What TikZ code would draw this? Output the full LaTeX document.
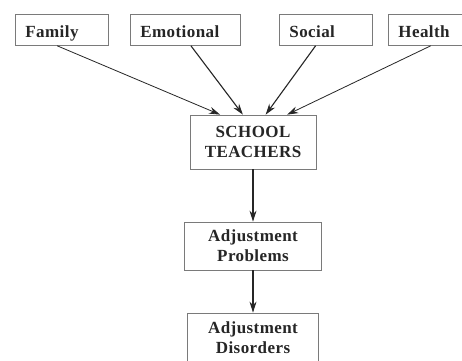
\documentclass[tikz,border=0pt]{standalone}
\usepackage{fontspec}
\setmainfont{Liberation Serif}[LetterSpace=2.5]
\usetikzlibrary{arrows.meta,calc}
\definecolor{boxline}{HTML}{7A7A7A}
\definecolor{ink}{HTML}{262626}
\tikzset{
  topbox/.style={draw=boxline, line width=0.8pt, anchor=north west,
    inner xsep=10pt, inner ysep=0pt, minimum height=31pt, align=left,
    text height=16pt, text depth=0pt,
    font=\fontsize{17}{19}\selectfont\bfseries, text=ink},
  midbox/.style={draw=boxline, line width=0.8pt, align=center,
    inner sep=0pt, font=\fontsize{17}{20}\selectfont\bfseries, text=ink},
  link/.style={draw=ink, line width=1.1pt, -{Stealth[length=11pt,width=7pt]}}
}
\begin{document}
\begin{tikzpicture}[x=1pt,y=-1pt]
  \useasboundingbox[fill=white] (0,0) rectangle (462,360);

  % causes along the top row
  \node[topbox, text width=73pt] (family) at (15,14) {Family};
  \node[topbox, text width=90pt] (emo) at (130,14) {Emotional};
  \node[topbox, text width=73pt] (social) at (279,14) {Social};
  \node[topbox, text width=72pt] (health) at (388,14) {Health};

  % main chain
  \node[midbox, minimum width=126pt, minimum height=54pt] (school) at (253,142) {SCHOOL\\TEACHERS};
  \node[midbox, minimum width=137pt, minimum height=48pt] (prob) at (253,246) {Adjustment\\Problems};
  \node[midbox, minimum width=131pt, minimum height=50pt] (dis) at (253,338) {Adjustment\\Disorders};

  % converging arrows
  \draw[link, line width=0.8pt] ($(family.south west)!0.45!(family.south east)$) -- ($(school.north west)!0.24!(school.north east)$);
  \draw[link] ($(emo.south west)!0.55!(emo.south east)$) -- ($(school.north west)!0.42!(school.north east)$);
  \draw[link] ($(social.south west)!0.39!(social.south east)$) -- ($(school.north west)!0.6!(school.north east)$);
  \draw[link, line width=0.8pt] ($(health.south west)!0.46!(health.south east)$) -- ($(school.north west)!0.77!(school.north east)$);

  \draw[link] (school) -- (prob);
  \draw[link] (prob) -- (dis);
\end{tikzpicture}
\end{document}
